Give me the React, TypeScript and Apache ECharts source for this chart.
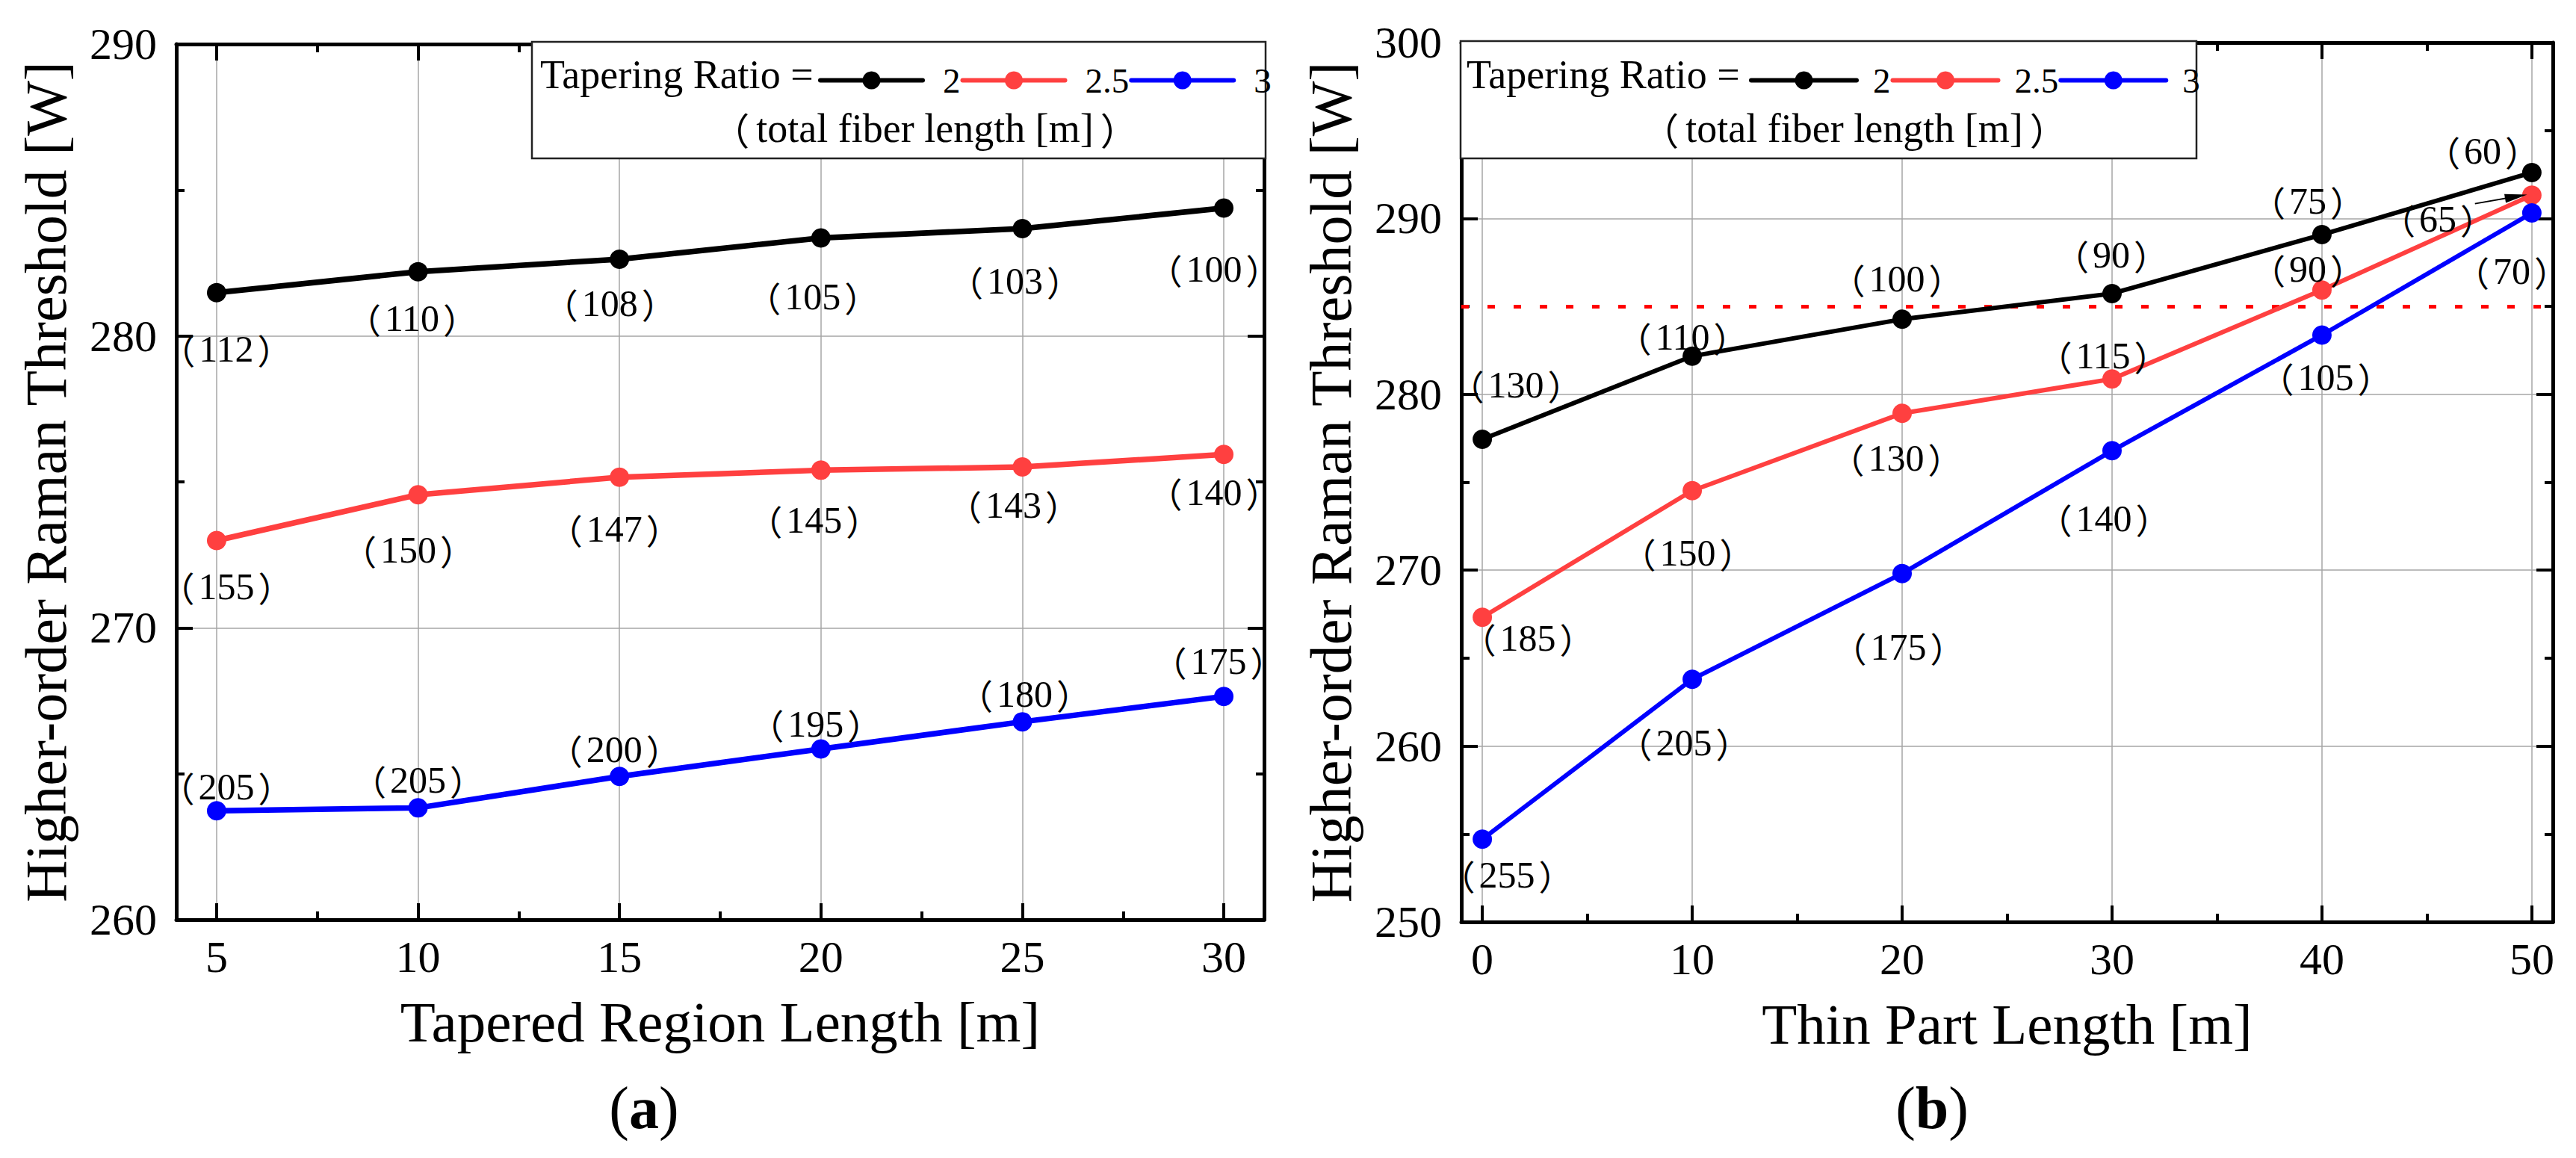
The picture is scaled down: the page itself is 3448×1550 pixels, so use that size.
import React, { useEffect, useRef } from "react";
import * as echarts from "echarts";

// ---------------- data ----------------
// (a) Tapered region length sweep
const taperedLength = [5, 10, 15, 20, 25, 30];
const taperedRatio2 = [281.48, 282.2, 282.63, 283.36, 283.68, 284.38];
const taperedRatio25 = [272.99, 274.56, 275.16, 275.4, 275.51, 275.94];
const taperedRatio3 = [263.73, 263.83, 264.91, 265.85, 266.78, 267.65];
const taperedFiber2 = [112, 110, 108, 105, 103, 100];
const taperedFiber25 = [155, 150, 147, 145, 143, 140];
const taperedFiber3 = [205, 205, 200, 195, 180, 175];

// (b) Thin part length sweep
const thinLength = [0, 10, 20, 30, 40, 50];
const thinRatio2 = [277.44, 282.17, 284.27, 285.73, 289.08, 292.61];
const thinRatio25 = [267.32, 274.52, 278.92, 280.87, 285.93, 291.32];
const thinRatio3 = [254.7, 263.8, 269.81, 276.79, 283.37, 290.31];
const thinFiber2 = [130, 110, 100, 90, 75, 60];
const thinFiber25 = [185, 150, 130, 115, 90, 65];
const thinFiber3 = [255, 205, 175, 140, 105, 70];

const ratioNames = ["2", "2.5", "3"];
const thresholdW = 285;
const arrowFrom = [47.29, 290.84];
const arrowTo = [49.25, 291.25];

// axis ranges
const taperedRange = [4, 31];
const thinRange = [-1, 51];
const taperedYRange = [260, 290];
const thinYRange = [250, 300];

// ---------------- layout / style ----------------
const COLORS = ["#000000", "#ff4040", "#0000ff"];
const SERIF = "'Liberation Serif', 'Times New Roman', serif";
const CJK = "'Noto Sans CJK SC', 'Noto Sans CJK JP', sans-serif";

// label offsets (px, label centre relative to the marker)
const offA2 = [[13, 75], [-8, 62], [-13, 59], [-11, 79], [-10, 70], [-13, 81]];
const offA25 = [[13, 61], [-13, 74], [-7, 69], [-9, 67], [-12, 51], [-13, 51]];
const offA3 = [[13, -32], [0, -37], [-7, -36], [-7, -33], [3, -37], [-7, -47]];
const offB2 = [[45, -73], [-13, -26], [-7, -54], [-1, -52], [-19, -45], [-66, -29]];
const offB25 = [[61, 28], [-6, 83], [-8, 60], [-12, -31], [-19, -28], [-126, 32]];
const offB3 = [[33, 48], [-11, 85], [-5, 98], [-11, 91], [5, 57], [-27, 78]];

const tickStyle = { color: "#000", width: 4 };
const gridLineStyle = { color: "#a6a6a6", width: 1.5 };

function xAxisDef(gridIndex: number, range: number[], position: string, name?: string) {
  const bottom = position === "bottom";
  return {
    type: "value",
    gridIndex,
    min: range[0],
    max: range[1],
    position,
    name: bottom ? name : "",
    nameLocation: "middle",
    nameGap: 98,
    nameMoveOverlap: false,
    nameTextStyle: { fontSize: 77, fontFamily: SERIF, color: "#000" },
    axisLine: { show: true, onZero: false, lineStyle: { color: "#000", width: 5 } },
    axisTick: { show: true, inside: true, length: 22, lineStyle: tickStyle },
    minorTick: { show: true, splitNumber: 2, length: 11, lineStyle: tickStyle },
    axisLabel: {
      show: bottom,
      margin: 20,
      fontSize: 60,
      fontFamily: SERIF,
      color: "#000",
      showMinLabel: false,
      showMaxLabel: false,
    },
    splitLine: { show: bottom, lineStyle: gridLineStyle },
    minorSplitLine: { show: false },
  };
}

function yAxisDef(gridIndex: number, range: number[], position: string, name?: string) {
  const left = position === "left";
  return {
    type: "value",
    gridIndex,
    min: range[0],
    max: range[1],
    interval: 10,
    position,
    name: left ? name : "",
    nameLocation: "middle",
    nameGap: 136,
    nameRotate: 90,
    nameMoveOverlap: false,
    nameTextStyle: { fontSize: 78, fontFamily: SERIF, color: "#000" },
    axisLine: { show: true, onZero: false, lineStyle: { color: "#000", width: 5 } },
    axisTick: { show: true, inside: true, length: 22, lineStyle: tickStyle },
    minorTick: { show: true, splitNumber: 2, length: 11, lineStyle: tickStyle },
    axisLabel: { show: left, margin: 26, fontSize: 60, fontFamily: SERIF, color: "#000" },
    splitLine: { show: left, lineStyle: gridLineStyle },
    minorSplitLine: { show: false },
  };
}

function lineSeries(
  name: string,
  color: string,
  xs: number[],
  ys: number[],
  fiber: number[],
  offsets: number[][],
  axisIndex: number,
  lineWidth: number,
  extra: any = {}
) {
  return {
    type: "line",
    name,
    xAxisIndex: axisIndex,
    yAxisIndex: axisIndex,
    symbol: "circle",
    symbolSize: 26,
    silent: true,
    lineStyle: { color, width: lineWidth },
    itemStyle: { color },
    data: xs.map((x, i) => ({
      value: [x, ys[i]],
      label: { offset: offsets[i] },
    })),
    label: {
      show: true,
      position: "inside",
      formatter: (p: any) => `{l|（}{d|${fiber[p.dataIndex]}}{r|）}`,
      rich: {
        l: { fontSize: 46, fontFamily: CJK, color: "#000", padding: [0, 5, 0, 0] },
        d: { fontSize: 50, fontFamily: SERIF, color: "#000" },
        r: { fontSize: 46, fontFamily: CJK, color: "#000", padding: [0, 0, 0, 5] },
      },
      fontSize: 50,
      fontFamily: SERIF,
      color: "#000",
      textBorderWidth: 0,
      textBorderColor: "transparent",
    },
    emphasis: { disabled: true },
    ...extra,
  };
}

function legendDef(left: number, itemWidth: number, pad: number) {
  return {
    data: ratioNames,
    left,
    top: 84,
    orient: "horizontal",
    padding: 0,
    itemWidth,
    itemHeight: 30,
    itemGap: 0,
    selectedMode: false,
    lineStyle: { width: 6, cap: "round" },
    textStyle: {
      fontSize: 47,
      fontFamily: SERIF,
      color: "#000",
      lineHeight: 30,
      padding: [0, 0, 0, pad],
    },
    z: 5,
  };
}

function textEl(x: number, y: number, text: string, size: number, align: string) {
  return {
    type: "text",
    z: 6,
    x,
    y,
    style: {
      text,
      fontSize: size,
      fontFamily: SERIF,
      fill: "#000",
      align,
      textAlign: align,
      verticalAlign: "middle",
      textVerticalAlign: "middle",
    },
  };
}

function fiberNote(x: number, y: number) {
  return {
    type: "text",
    z: 6,
    x,
    y,
    style: {
      text: "{l|（}{t|total fiber length [m]}{r|）}",
      rich: {
        l: { fontSize: 50, fontFamily: CJK, fill: "#000", padding: [0, 9, 0, 0] },
        t: { fontSize: 54, fontFamily: SERIF, fill: "#000" },
        r: { fontSize: 50, fontFamily: CJK, fill: "#000", padding: [0, 0, 0, 9] },
      },
      align: "center",
      textAlign: "center",
      verticalAlign: "middle",
      textVerticalAlign: "middle",
    },
  };
}

function panelLabel(x: number, y: number, letter: string) {
  return {
    type: "text",
    z: 6,
    x,
    y,
    style: {
      text: `{n|(}{b|${letter}}{n|)}`,
      rich: {
        n: { fontSize: 80, fontFamily: SERIF, fill: "#000" },
        b: { fontSize: 80, fontFamily: SERIF, fontWeight: "bold", fill: "#000" },
      },
      align: "center",
      textAlign: "center",
      verticalAlign: "middle",
      textVerticalAlign: "middle",
    },
  };
}

function buildOption() {
  return {
    animation: false,
    backgroundColor: "#ffffff",
    grid: [
      { left: 236, top: 59, width: 1456, height: 1172, outerBoundsMode: "none", containLabel: false },
      { left: 1956, top: 57, width: 1461, height: 1177, outerBoundsMode: "none", containLabel: false },
    ],
    xAxis: [
      xAxisDef(0, taperedRange, "bottom", "Tapered Region Length [m]"),
      xAxisDef(0, taperedRange, "top"),
      xAxisDef(1, thinRange, "bottom", "Thin Part Length [m]"),
      xAxisDef(1, thinRange, "top"),
    ],
    yAxis: [
      yAxisDef(0, taperedYRange, "left", "Higher-order Raman Threshold [W]"),
      yAxisDef(0, taperedYRange, "right"),
      yAxisDef(1, thinYRange, "left", "Higher-order Raman Threshold [W]"),
      yAxisDef(1, thinYRange, "right"),
    ],
    legend: [legendDef(1095, 137, 22), legendDef(2341, 141, 17)],
    series: [
      lineSeries(ratioNames[0], COLORS[0], taperedLength, taperedRatio2, taperedFiber2, offA2, 0, 7.5),
      lineSeries(ratioNames[1], COLORS[1], taperedLength, taperedRatio25, taperedFiber25, offA25, 0, 7.5),
      lineSeries(ratioNames[2], COLORS[2], taperedLength, taperedRatio3, taperedFiber3, offA3, 0, 7.5),
      lineSeries(ratioNames[0], COLORS[0], thinLength, thinRatio2, thinFiber2, offB2, 2, 6, {
        markLine: {
          silent: true,
          symbol: ["none", "none"],
          label: { show: false },
          lineStyle: { color: "#ff0000", width: 5, type: [10, 25], cap: "butt" },
          data: [{ yAxis: thresholdW }],
          z: 1,
        },
      }),
      lineSeries(ratioNames[1], COLORS[1], thinLength, thinRatio25, thinFiber25, offB25, 2, 6, {
        markLine: {
          silent: true,
          symbol: ["none", "triangle"],
          symbolSize: [12, 30],
          label: { show: false },
          lineStyle: { color: "#000", width: 2, type: "solid" },
          data: [[{ coord: arrowFrom }, { coord: arrowTo }]],
        },
      }),
      lineSeries(ratioNames[2], COLORS[2], thinLength, thinRatio3, thinFiber3, offB3, 2, 6),
    ],
    graphic: [
      {
        type: "rect",
        z: 3,
        shape: { x: 712, y: 56, width: 982, height: 156 },
        style: { fill: "#ffffff", stroke: "#222", lineWidth: 2.5 },
      },
      {
        type: "rect",
        z: 3,
        shape: { x: 1955, y: 55, width: 985, height: 157 },
        style: { fill: "#ffffff", stroke: "#222", lineWidth: 2.5 },
      },
      textEl(723, 100, "Tapering Ratio =", 54, "left"),
      textEl(1963, 100, "Tapering Ratio =", 54, "left"),
      fiberNote(1238, 172),
      fiberNote(2482, 172),
      panelLabel(862, 1483, "a"),
      panelLabel(2586, 1483, "b"),
    ],
  };
}

export default function App() {
  const ref = useRef<HTMLDivElement>(null);
  useEffect(() => {
    if (!ref.current) return;
    const chart = echarts.init(ref.current, null, { renderer: "svg" });
    chart.setOption(buildOption() as any);
    return () => chart.dispose();
  }, []);
  return (
    <div
      ref={ref}
      style={{ position: "fixed", left: 0, top: 0, width: 3448, height: 1550, background: "#fff" }}
    />
  );
}
